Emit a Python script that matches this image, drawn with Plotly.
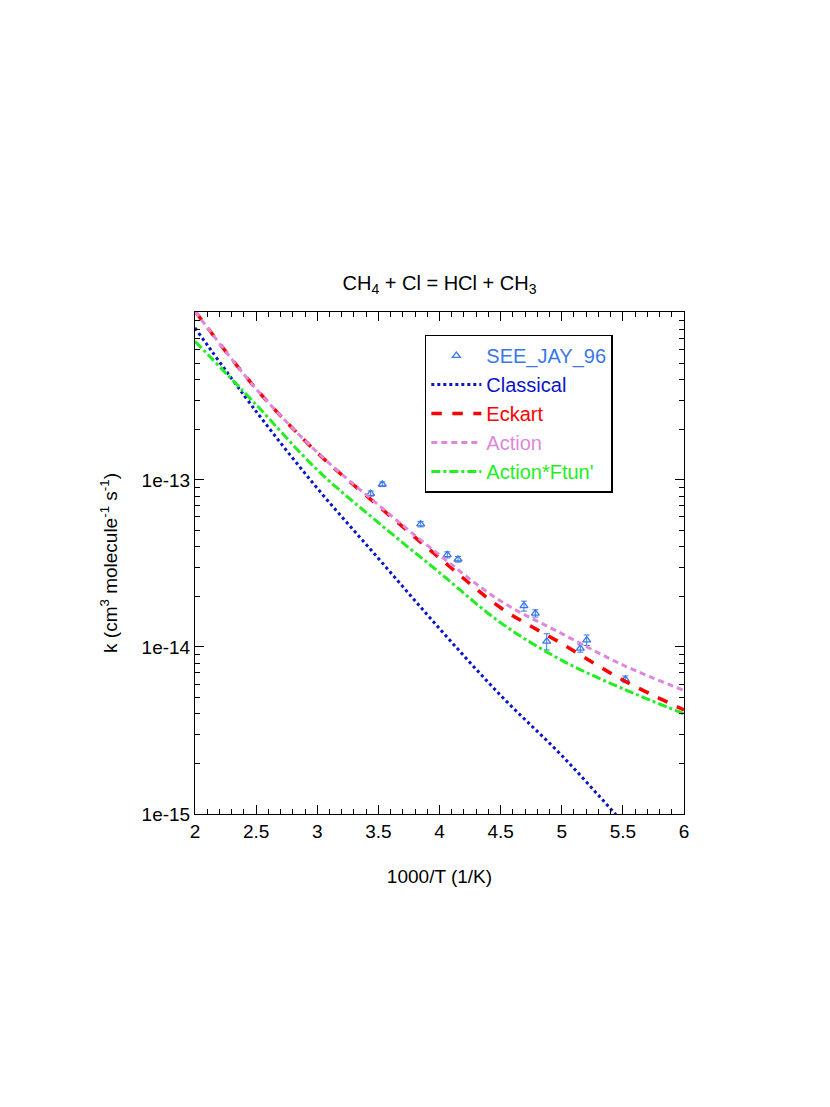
import plotly.graph_objects as go

x_curve = [2.0, 2.5, 3.0, 3.5, 4.0, 4.5, 5.0, 5.5, 6.0]
classical_log = [-12.09, -12.59, -13.05, -13.47, -13.89, -14.29, -14.65, -15.05, -15.45]
eckart_log = [-11.99, -12.455, -12.837, -13.156, -13.467, -13.765, -13.98, -14.198, -14.377]
action_log = [-11.99, -12.455, -12.835, -13.15, -13.45, -13.725, -13.92, -14.108, -14.26]
ftun_log = [-12.17, -12.55, -12.94, -13.256, -13.555, -13.855, -14.08, -14.25, -14.40]

x_exp = [3.437, 3.532, 3.846, 4.064, 4.151, 4.691, 4.784, 4.877, 5.152, 5.204, 5.520]
k_exp = [8.28e-14, 9.42e-14, 5.43e-14, 3.56e-14, 3.35e-14, 1.76e-14, 1.59e-14, 1.08e-14, 9.8e-15, 1.10e-14, 6.4e-15]
k_err = [3e-15, 3e-15, 2e-15, 1.5e-15, 1.3e-15, 1.2e-15, 0.8e-15, 1.2e-15, 0.5e-15, 0.8e-15, 0.3e-15]

ytickvals = [1e-15, 1e-14, 1e-13]
yticktext = ["1e-15", "1e-14", "1e-13"]
yminorvals = [m * 10.0 ** e for e in (-15, -14, -13) for m in range(2, 10)]

def lin(v):
    return [10 ** a for a in v]

fig = go.Figure()
fig.add_trace(go.Scatter(x=x_exp, y=k_exp, mode="markers",
    error_y=dict(type="data", array=k_err, color="#3a78e8", thickness=1, width=3),
    marker=dict(symbol="triangle-up-open", size=7, color="#3a78e8", line=dict(width=1.3)),
    name="<span style='color:#3a78e8'>SEE_JAY_96</span>"))
fig.add_trace(go.Scatter(x=x_curve, y=lin(classical_log), mode="lines", line_shape="spline",
    line=dict(color="#0a14c8", dash="dot", width=3), name="<span style='color:#0a14c8'>Classical</span>"))
fig.add_trace(go.Scatter(x=x_curve, y=lin(eckart_log), mode="lines", line_shape="spline",
    line=dict(color="#ff0000", dash="dash", width=3.5), name="<span style='color:#ff0000'>Eckart</span>"))
fig.add_trace(go.Scatter(x=x_curve, y=lin(action_log), mode="lines", line_shape="spline",
    line=dict(color="#dd88dd", dash="6px,4px", width=3), name="<span style='color:#dd88dd'>Action</span>"))
fig.add_trace(go.Scatter(x=x_curve, y=lin(ftun_log), mode="lines", line_shape="spline",
    line=dict(color="#22ee22", dash="dashdot", width=3), name="<span style='color:#22ee22'>Action*Ftun'</span>"))

axis_common = dict(showgrid=False, zeroline=False, showline=True, linecolor="black", linewidth=1,
                   mirror="allticks", ticks="inside", tickcolor="black", ticklen=9,
                   tickfont=dict(size=19, color="black"))
fig.update_layout(
    width=830, height=1107, paper_bgcolor="white", plot_bgcolor="white",
    font=dict(family="Liberation Sans, Arial, sans-serif", color="black"),
    margin=dict(l=187, r=154, t=304, b=301),
    title=dict(text="CH<sub>4</sub> + Cl = HCl + CH<sub>3</sub>", x=(187 + 489 / 2) / 830, xanchor="center",
               y=1 - 275 / 1107, yanchor="middle", font=dict(size=20)),
    xaxis=dict(range=[2, 6], dtick=0.5, title=dict(text="1000/T (1/K)", font=dict(size=19), standoff=28),
               minor=dict(ticks="inside", dtick=0.1, ticklen=5, tickcolor="black"), **axis_common),
    yaxis=dict(type="log", range=[-15, -11.995], tickvals=ytickvals, ticktext=yticktext,
               title=dict(text="k (cm<sup>3</sup> molecule<sup>-1</sup> s<sup>-1</sup>)", font=dict(size=19), standoff=18),
               minor=dict(ticks="inside", tickmode="array", tickvals=yminorvals, ticklen=5, tickcolor="black"),
               **axis_common),
    legend=dict(x=0.47, y=0.955, xanchor="left", yanchor="top", bgcolor="white",
                bordercolor="black", borderwidth=1.5, font=dict(size=20), itemwidth=50,
                tracegroupgap=0),
)
fig.write_html("out.html")
